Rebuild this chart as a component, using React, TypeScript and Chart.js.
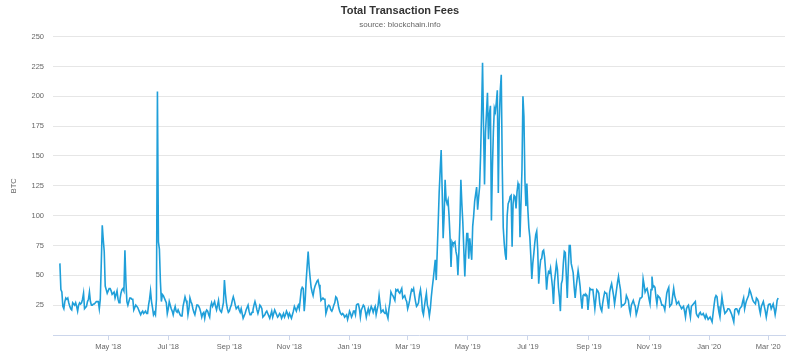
import React, { useEffect, useRef } from 'react';
import { Chart, registerables } from 'chart.js';

Chart.register(...registerables);

// First day of the series (UTC), one value per day
const seriesStart = '2018-03-13';

// Daily total transaction fees (BTC)
const feesSpring2018 = [
  60, 38, 36, 24, 22, 28, 31, 30, 31, 27,
  24, 22, 21, 27, 26, 25, 27, 24, 20, 25,
  27, 26, 27, 30, 35, 22, 23, 24, 28, 30,
  36, 28, 25, 25, 26, 26, 27, 28, 28, 28,
  22, 30, 60, 92, 80, 70, 41, 38, 35, 37,
  39, 39, 37, 34, 35, 36, 31, 34, 37, 30,
  27, 30, 35, 38, 39, 37, 71, 45, 28, 25,
  28, 31, 31, 30, 30, 21, 23, 25, 24, 23,
  21, 19, 17, 19, 20, 18, 19, 20, 18, 18,
  25, 30, 37, 28, 23, 17, 19, 17, 30, 204,
  78, 72, 45, 28, 34, 33, 31, 29, 27, 18,
  22, 28, 25, 22, 20, 17, 21, 24, 20, 19,
  21, 19, 17, 16, 16, 24, 28, 32, 29, 26,
  17, 22, 31, 28, 26, 22, 19, 17, 21, 25,
  25, 24, 22, 19, 15, 18, 19,
];

const feesSummerWinter2018 = [
  14, 19, 21, 20, 17, 15, 24, 27, 24, 26,
  28, 24, 21, 25, 29, 22, 20, 19, 23, 27,
  46, 35, 27, 22, 19, 20, 23, 25, 29, 32,
  29, 25, 22, 23, 24, 21, 19, 22, 18, 14,
  16, 18, 21, 23, 25, 20, 17, 17, 19, 21,
  25, 28, 25, 21, 18, 21, 25, 24, 22, 15,
  16, 17, 19, 20, 18, 16, 14, 17, 20, 15,
  18, 21, 19, 17, 15, 16, 18, 17, 14, 16,
  18, 15, 17, 20, 18, 15, 18, 16, 14, 17,
  20, 24, 22, 20, 23, 25, 22, 30, 38, 40,
  39, 20, 30, 46, 58, 70, 57, 48, 40, 36,
  33, 38, 41, 43, 45, 46, 42, 38, 29, 30,
  31, 30, 30, 18, 21, 24, 25, 24, 21, 20,
  22, 25, 27, 32, 31, 28, 23, 20, 18, 17,
  18, 17, 15, 16, 17, 13, 16, 20, 18, 15,
  17, 20, 20, 17, 25, 26, 26, 22,
];

const feesEarly2019 = [
  15, 21, 23, 25, 24, 20, 15, 19, 22, 18,
  21, 24, 22, 19, 22, 24, 17, 21, 25, 33,
  26, 19, 20, 21, 19, 18, 21, 17, 14, 22,
  27, 36, 34, 33, 31, 29, 38, 37, 38, 36,
  35, 37, 39, 31, 32, 33, 30, 28, 22, 25,
  29, 34, 38, 37, 39, 33, 28, 24, 25, 27,
  34, 38, 31, 20, 17, 24, 30, 35, 25, 22,
  16, 22, 32, 40, 47, 55, 63, 46, 70, 94,
  120,
];

const feesPeak2019 = [
  138, 155, 122, 81, 100, 130, 113, 110, 113, 100,
  82, 57, 78, 76, 77, 78, 70, 66, 50, 70,
  94, 130, 110, 94, 71, 49, 70, 85, 85, 64,
  81, 72, 63, 91, 100, 112, 118, 124, 105, 115,
  124, 150, 185, 228, 175, 126, 170, 186, 203, 164,
  185, 192, 96, 140, 170, 190, 187, 195, 205, 119,
  180, 205, 218, 141, 90, 77, 68, 63, 100, 110,
  112, 116, 117, 74, 110, 117, 116, 106, 120, 127,
  124, 82, 110, 138, 200, 183, 130, 108, 127, 105,
  90, 82, 66, 47, 60, 68, 77, 84, 87, 71,
  43, 55, 63, 64, 70, 71, 65, 54, 38, 48,
  53, 52, 56, 48, 40, 26, 45, 52, 60, 55,
  40, 32, 20, 43, 46, 60, 70, 69, 50, 31,
  56, 75,
];

const feesLate2019Early2020 = [
  75, 60, 56, 52, 40, 31, 40, 47, 54, 48,
  41, 30, 22, 33, 34, 33, 34, 33, 21, 30,
  39, 38, 38, 38, 30, 22, 30, 38, 37, 35,
  26, 22, 20, 27, 32, 36, 35, 35, 28, 22,
  36, 40, 43, 38, 33, 26, 32, 38, 44, 49,
  43, 38, 24, 25, 25, 26, 27, 33, 31, 29,
  22, 18, 25, 27, 29, 26, 24, 17, 20, 24,
  28, 31, 31, 32, 47, 42, 36, 38, 39, 35,
  30, 26, 38, 49, 40, 41, 40, 32, 26, 33,
  32, 31, 28, 25, 25, 24, 21, 28, 35, 38,
  40, 24, 25, 26, 33, 39, 33, 30, 26, 27,
  28, 25, 24, 22, 23, 24, 20, 15, 22, 24,
  25, 20, 15, 24, 25, 26, 27, 28, 18, 16,
  15, 18, 19, 17, 17, 18, 16, 14, 17, 15,
  13, 14, 15, 13, 11, 18, 25, 31, 33, 32,
  24, 19, 15, 24, 32, 26, 22, 18, 19, 20,
  22, 22, 21, 19, 17, 14, 11, 21, 22, 22,
  20, 18, 22, 23, 24, 28, 31, 22, 26, 29,
  31, 33, 38, 36, 33, 30, 28, 27, 26, 31,
  30, 28, 22, 18, 24, 26, 28, 24, 20, 15,
  20, 25, 26, 26, 22, 24, 26, 22, 17, 22,
  29, 31,
];

const tickDates = [
  '2018-05-01', '2018-07-01', '2018-09-01', '2018-11-01',
  '2019-01-01', '2019-03-01', '2019-05-01', '2019-07-01',
  '2019-09-01', '2019-11-01', '2020-01-01', '2020-03-01',
];
const tickLabels = [
  "May '18", "Jul '18", "Sep '18", "Nov '18",
  "Jan '19", "Mar '19", "May '19", "Jul '19",
  "Sep '19", "Nov '19", "Jan '20", "Mar '20",
];

const yTicks = [0, 25, 50, 75, 100, 125, 150, 175, 200, 225, 250];

const DAY = 86400000;
const FONT = '"Liberation Sans", Arial, Helvetica, sans-serif';

export default function App() {
  const canvasRef = useRef<HTMLCanvasElement | null>(null);

  useEffect(() => {
    const canvas = canvasRef.current;
    if (!canvas) return;
    const fees = [
      ...feesSpring2018,
      ...feesSummerWinter2018,
      ...feesEarly2019,
      ...feesPeak2019,
      ...feesLate2019Early2020,
    ];
    const start = Date.parse(seriesStart);
    const points = fees.map((v, i) => ({ x: start + i * DAY, y: v }));
    const tickValues = tickDates.map((d) => Date.parse(d));
    const last = start + (fees.length - 1) * DAY;

    const chart = new Chart(canvas, {
      type: 'line',
      data: {
        datasets: [
          {
            label: 'Total Transaction Fees',
            data: points,
            borderColor: '#1f9fd9',
            borderWidth: 1.6,
            pointRadius: 0,
            tension: 0,
            fill: false,
          },
        ],
      },
      options: {
        animation: false,
        responsive: true,
        maintainAspectRatio: false,
        layout: { padding: 0 },
        plugins: {
          legend: { display: false },
          tooltip: { enabled: false },
          title: {
            display: true,
            text: 'Total Transaction Fees',
            color: '#333333',
            font: { family: FONT, size: 11, weight: 'bold' },
            padding: { top: 4.4, bottom: 0.4 },
          },
          subtitle: {
            display: true,
            text: 'source: blockchain.info',
            color: '#666666',
            font: { family: FONT, size: 8, weight: 'normal' },
            padding: { top: 1.8, bottom: 7.2 },
          },
        },
        scales: {
          x: {
            type: 'linear',
            min: start - 7 * DAY,
            max: last + 7 * DAY,
            afterBuildTicks: (scale: any) => {
              scale.ticks = tickValues.map((v) => ({ value: v }));
            },
            afterFit: (scale: any) => {
              scale.height = 24;
            },
            ticks: {
              autoSkip: false,
              maxRotation: 0,
              minRotation: 0,
              padding: 2,
              color: '#666666',
              font: { family: FONT, size: 7.5 },
              callback: (_v: any, index: number) => tickLabels[index],
            },
            grid: {
              display: true,
              drawOnChartArea: false,
              drawTicks: true,
              tickLength: 5,
              color: '#ccd6eb',
            },
            border: { display: true, color: '#ccd6eb', width: 1 },
          },
          y: {
            type: 'linear',
            position: 'left',
            min: 0,
            max: 250,
            afterBuildTicks: (scale: any) => {
              scale.ticks = yTicks.map((v) => ({ value: v }));
            },
            afterFit: (scale: any) => {
              scale.width = 53;
            },
            title: {
              display: true,
              text: 'BTC',
              color: '#666666',
              font: { family: FONT, size: 7.5 },
              padding: { top: 9, bottom: 0 },
            },
            ticks: {
              padding: 9,
              color: '#666666',
              font: { family: FONT, size: 7.5 },
              callback: (v: any) => (v === 0 ? '' : String(v)),
            },
            grid: {
              drawTicks: false,
              color: (ctx: any) => (ctx.tick && ctx.tick.value === 0 ? 'rgba(0,0,0,0)' : '#e6e6e6'),
              lineWidth: 1,
            },
            border: { display: false },
          },
          rightSpace: {
            type: 'linear',
            position: 'right',
            display: true,
            min: 0,
            max: 250,
            afterFit: (scale: any) => {
              scale.width = 15;
            },
            ticks: { display: false },
            grid: { display: false, drawTicks: false },
            border: { display: false },
          },
        },
      },
    });
    return () => chart.destroy();
  }, []);

  return (
    <div style={{ position: 'fixed', left: 0, top: 0, width: 800, height: 359, background: '#ffffff' }}>
      <canvas ref={canvasRef} />
    </div>
  );
}
